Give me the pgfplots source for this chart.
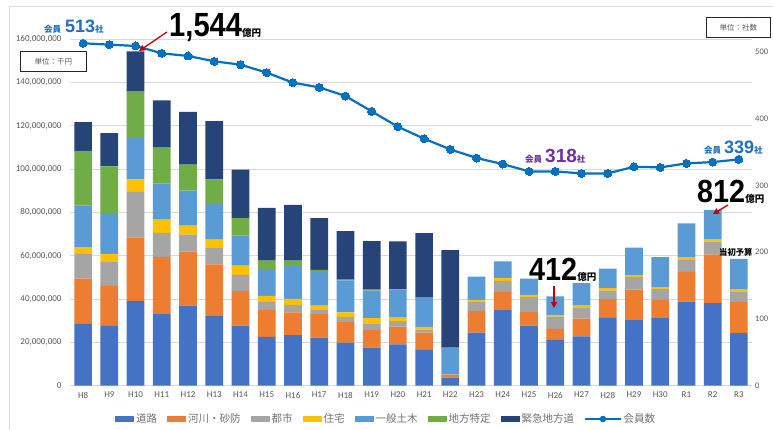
\documentclass[border=0pt]{standalone}
\usepackage{fontspec}
\setmainfont{Carlito}
\newfontfamily\jp{Noto Sans CJK JP}
\newfontfamily\arb{Liberation Sans}
\usepackage{graphicx}
\usepackage{pgfplots}
\pgfplotsset{compat=1.18}
\usepackage{pgfplotstable}
\usetikzlibrary{arrows.meta}

\definecolor{cRoad}{HTML}{4472C4}
\definecolor{cRiver}{HTML}{ED7D31}
\definecolor{cCity}{HTML}{A5A5A5}
\definecolor{cHouse}{HTML}{FFC000}
\definecolor{cGen}{HTML}{5B9BD5}
\definecolor{cLocal}{HTML}{70AD47}
\definecolor{cEmerg}{HTML}{264478}
\definecolor{cLine}{HTML}{0070C0}
\definecolor{cAnn}{HTML}{1F70C1}
\definecolor{cPurple}{HTML}{7030A0}
\definecolor{cArrow}{HTML}{C00000}
\definecolor{tickc}{HTML}{595959}
\definecolor{gridc}{HTML}{D9D9D9}

\pgfplotstableread{
x road river city house gen local emerg mem
0 28.5 20.9 11.5 3.1 19.3 25.2 13.2 513
1 27.6 18.5 11.3 3.5 18.4 22.0 15.3 511
2 39.2 29.3 21.0 5.8 19.0 21.5 18.6 509
3 33.0 26.5 11.1 6.1 16.6 16.6 21.9 498
4 37.0 24.9 7.8 4.2 16.2 12.0 24.4 494
5 32.4 23.6 7.9 3.5 16.4 11.5 26.9 486
6 27.7 16.1 7.4 4.2 14.0 8.0 22.4 481
7 22.5 12.5 3.7 2.8 12.3 3.9 24.4 469
8 23.3 10.5 3.5 2.8 15.1 2.6 25.7 454
9 22.2 10.8 1.9 2.1 15.4 1.1 23.9 447
10 19.9 9.4 2.5 2.0 14.8 0.4 22.4 434
11 17.5 8.1 3.2 2.4 12.7 0.5 22.4 411
12 19.1 8.2 2.5 1.6 13.0 0.1 22.1 388
13 16.5 8.0 1.4 1.2 13.5 0 29.9 370
14 3.7 1.1 0.2 0.1 12.4 0 45.1 354
15 24.5 10.0 4.1 1.0 10.8 0 0 341
16 34.9 8.4 5.1 1.4 7.6 0 0 332
17 27.7 6.2 7.0 1.0 7.5 0 0 321
18 21.4 4.8 5.7 0.8 8.5 0 0 321
19 22.8 8.2 4.8 1.1 10.5 0 0 318
20 31.3 8.7 3.9 1.1 9.0 0 0 318
21 30.2 14.2 5.7 1.0 12.6 0 0 328
22 31.2 8.4 5.0 0.9 13.9 0 0 327
23 38.8 13.7 5.6 1.0 15.9 0 0 333
24 38.1 22.5 5.9 1.2 13.5 0 0 335
25 24.2 14.5 4.8 0.9 14.2 0 0 339
}\datatable

\pgfplotsset{
  mybar/.style={fill=#1, draw=none,
    legend image code/.code={\fill[#1] (0pt,-3.3pt) rectangle (19pt,3.3pt);}},
  mylinelegend/.style={legend image code/.code={\draw[mark repeat=2,mark phase=2,##1] plot coordinates {(0pt,0pt) (9pt,0pt) (18pt,0pt)};}},
}

\begin{document}
\begin{tikzpicture}[x=1pt,y=1pt]
\useasboundingbox (0,0) rectangle (773,429);
\draw[black!15, line width=0.8pt] (9,-2) -- (9,423) -- (776,423);

\begin{axis}[
  at={(70pt,43.4pt)}, anchor=south west, scale only axis,
  width=682pt, height=346.3pt,
  ybar stacked, bar width=17.7pt,
  xmin=-0.5, xmax=25.5, ymin=0, ymax=160,
  xtick={0,...,25},
  xticklabels={H8,H9,H10,H11,H12,H13,H14,H15,H16,H17,H18,H19,H20,H21,H22,H23,H24,H25,H26,H27,H28,H29,H30,R1,R2,R3},
  ytick={0,20,...,160},
  yticklabels={0,{20,000,000},{40,000,000},{60,000,000},{80,000,000},{100,000,000},{120,000,000},{140,000,000},{160,000,000}},
  axis x line*=bottom, axis y line*=left,
  x axis line style={draw=gridc, line width=0.8pt},
  y axis line style={draw=none},
  major tick length=0pt,
  ymajorgrids, grid style={draw=gridc, line width=0.8pt},
  tick label style={font=\fontsize{9}{9}\selectfont, text=tickc},
  yticklabel style={xshift=-5pt},
  xticklabel style={yshift=-3pt},
  legend columns=-1,
  legend style={draw=none, fill=none, at={(0.066,-0.0965)}, anchor=west,
    font=\jp\fontsize{10.5}{10.5}\selectfont, text=tickc!85,
    /tikz/every even column/.append style={column sep=8pt},
    inner sep=0pt},
]
\addplot[mybar=cRoad]   table[x=x,y=road]{\datatable};  \addlegendentry{道路}
\addplot[mybar=cRiver]  table[x=x,y=river]{\datatable}; \addlegendentry{河川・砂防}
\addplot[mybar=cCity]   table[x=x,y=city]{\datatable};  \addlegendentry{都市}
\addplot[mybar=cHouse]  table[x=x,y=house]{\datatable}; \addlegendentry{住宅}
\addplot[mybar=cGen]    table[x=x,y=gen]{\datatable};   \addlegendentry{一般土木}
\addplot[mybar=cLocal]  table[x=x,y=local]{\datatable}; \addlegendentry{地方特定}
\addplot[mybar=cEmerg]  table[x=x,y=emerg]{\datatable}; \addlegendentry{緊急地方道}
\addlegendimage{cLine, line width=1.8pt, mark=*, mark size=2.3pt, mark options={fill=cLine}, mylinelegend}
\addlegendentry{会員数}
\end{axis}

\begin{axis}[
  at={(70pt,43.4pt)}, anchor=south west, scale only axis,
  width=682pt, height=346.3pt,
  xmin=-0.5, xmax=25.5, ymin=0, ymax=519,
  axis x line=none, xtick=\empty,
  axis y line*=right, y axis line style={draw=none},
  major tick length=0pt,
  ytick={0,100,...,500},
  yticklabel style={font=\fontsize{8.5}{8.5}\selectfont, text=tickc, anchor=west, xshift=1pt, inner sep=2pt},
  /pgf/number format/assume math mode=true,
]
\addplot[cLine, line width=2.2pt, mark=*, mark size=4pt, mark options={fill=cLine, draw=cLine, line width=0pt}] table[x=x,y=mem]{\datatable};
\end{axis}

% annotations
\node[anchor=base west, inner sep=0, text=cAnn] at (44,396.3) {{\jp\bfseries\fontsize{8.5}{9}\selectfont 会員}\hspace{4pt}{\arb\bfseries\fontsize{18}{18}\selectfont 513}{\jp\bfseries\fontsize{8.5}{9}\selectfont 社}};
\node[anchor=base west, inner sep=0] at (169,392) {\scalebox{0.87}[1]{\arb\bfseries\fontsize{33.5}{34}\selectfont 1,544}{\jp\bfseries\fontsize{9.5}{10}\selectfont 億円}};
\draw[-{Triangle[length=6pt,width=6pt]}, cArrow, line width=1.3pt] (167,397) -- (139,378);

\node[anchor=base west, inner sep=0] at (697,226) {\scalebox{0.9}[1]{\arb\bfseries\fontsize{32}{32}\selectfont 812}{\jp\bfseries\fontsize{9.5}{10}\selectfont 億円}};
\draw[-{Triangle[length=6pt,width=6pt]}, cArrow, line width=1.3pt] (728,224) -- (713,215);

\node[anchor=base west, inner sep=0] at (529,149) {\scalebox{0.9}[1]{\arb\bfseries\fontsize{32}{32}\selectfont 412}{\jp\bfseries\fontsize{9.5}{10}\selectfont 億円}};
\draw[-{Triangle[length=6pt,width=6pt]}, cArrow, line width=1.3pt] (554,143) -- (554,121);

\node[anchor=west, inner sep=0, font=\jp\bfseries\fontsize{8.3}{9}\selectfont] at (719,177) {当初予算};

\node[anchor=base west, inner sep=0, text=cPurple] at (525,266.7) {{\jp\bfseries\fontsize{8.5}{9}\selectfont 会員}\hspace{3pt}{\arb\bfseries\fontsize{19}{19}\selectfont 318}{\jp\bfseries\fontsize{8.5}{9}\selectfont 社}};
\node[anchor=base west, inner sep=0, text=cAnn] at (704,275.7) {{\jp\bfseries\fontsize{8.5}{9}\selectfont 会員}\hspace{3pt}{\arb\bfseries\fontsize{18}{18}\selectfont 339}{\jp\bfseries\fontsize{8.5}{9}\selectfont 社}};

\node[draw=black!85, line width=0.7pt, minimum width=66pt, minimum height=20pt, anchor=north west, inner sep=0, font=\jp\fontsize{7.5}{8}\selectfont, text=tickc] at (20,378) {単位：千円};
\node[draw=black!85, line width=0.7pt, minimum width=64pt, minimum height=20pt, anchor=north west, inner sep=0, font=\jp\fontsize{7.5}{8}\selectfont, text=tickc] at (706,412) {単位：社数};
\end{tikzpicture}
\end{document}
